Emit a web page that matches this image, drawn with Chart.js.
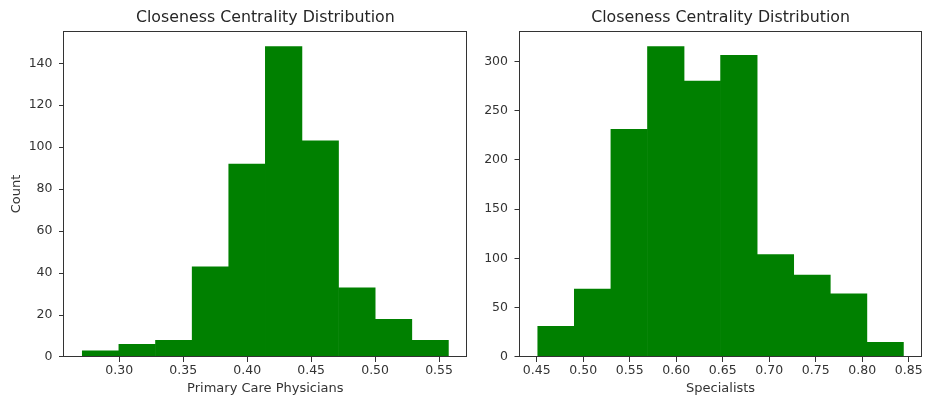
<!DOCTYPE html>
<html><head><meta charset="utf-8">
<script src="https://cdn.jsdelivr.net/npm/chart.js@4.4.0/dist/chart.umd.min.js"></script>
<style>
html,body{margin:0;padding:0;background:#fff;width:925px;height:401px;overflow:hidden;}
#w1{position:absolute;left:0;top:0;width:470px;height:401px;}
#w2{position:absolute;left:460px;top:0;width:465px;height:401px;}
</style></head><body>
<div id="w1"><canvas id="c1"></canvas></div>
<div id="w2"><canvas id="c2"></canvas></div>
<script>
const chartTitle = 'Closeness Centrality Distribution';

const pcpLabel = 'Primary Care Physicians';
const pcpBinEdges = [0.2711, 0.2997, 0.3283, 0.3570, 0.3856, 0.4142, 0.4428, 0.4714, 0.5001, 0.5287, 0.5573];
const pcpCounts = [3, 6, 8, 43, 92, 148, 103, 33, 18, 8];
const pcpXTicks = [0.30, 0.35, 0.40, 0.45, 0.50, 0.55];
const pcpYTicks = [0, 20, 40, 60, 80, 100, 120, 140];

const specLabel = 'Specialists';
const specBinEdges = [0.4511, 0.4904, 0.5297, 0.5691, 0.6084, 0.6477, 0.6870, 0.7263, 0.7657, 0.8050, 0.8443];
const specCounts = [31, 69, 231, 315, 280, 306, 104, 83, 64, 15];
const specXTicks = [0.45, 0.50, 0.55, 0.60, 0.65, 0.70, 0.75, 0.80, 0.85];
const specYTicks = [0, 50, 100, 150, 200, 250, 300];

const yLabel = 'Count';

Chart.defaults.font.family = "'DejaVu Sans', sans-serif";
Chart.defaults.color = '#333333';
Chart.defaults.animation = false;

const AX = '#333333';

const framePlugin = {
  id: 'frame',
  afterDatasetsDraw(chart) {
    const {ctx, chartArea: a} = chart;
    ctx.save();
    ctx.strokeStyle = AX;
    ctx.lineWidth = 1;
    const l = Math.round(a.left) - 0.5, t = Math.round(a.top) + 0.5;
    const r = Math.round(a.right) - 0.5, b = Math.round(a.bottom) - 0.5;
    ctx.strokeRect(l, t, r - l, b - t);
    ctx.restore();
  }
};

function makeHist(canvasId, edges, counts, xTicks, yTicks, xLabel, yTitle, yAxisWidth, rightPad) {
  const lo = edges[0], hi = edges[edges.length - 1];
  const m = (hi - lo) * 0.05;
  const ymax = Math.max(...counts) * 1.05;
  const data = counts.map((c, i) => ({x: (edges[i] + edges[i + 1]) / 2, y: c}));
  return new Chart(document.getElementById(canvasId), {
    type: 'bar',
    data: {datasets: [{
      data: data,
      backgroundColor: '#008000',
      borderWidth: 0,
      barPercentage: 1.0,
      categoryPercentage: 1.0
    }]},
    options: {
      responsive: true,
      maintainAspectRatio: false,
      layout: {padding: {top: 0, right: rightPad, bottom: 0, left: 0}},
      plugins: {
        legend: {display: false},
        tooltip: {enabled: false},
        title: {
          display: true,
          text: chartTitle,
          fullSize: false,
          font: {size: 15.8, weight: 'normal'},
          color: '#262626',
          padding: {top: 8.5, bottom: 3.5}
        }
      },
      scales: {
        x: {
          type: 'linear',
          min: lo - m,
          max: hi + m,
          offset: false,
          afterBuildTicks: (ax) => { ax.ticks = xTicks.map(v => ({value: v})); },
          afterFit: (ax) => { ax.height = 44; },
          ticks: {
            font: {size: 12.5},
            padding: 1.5,
            maxRotation: 0,
            autoSkip: false,
            callback: (v) => Number(v).toFixed(2)
          },
          grid: {display: true, drawOnChartArea: false, drawTicks: true, tickLength: 5, color: AX, offset: false},
          border: {display: false},
          title: {display: true, text: xLabel, font: {size: 13}, padding: {top: 0, bottom: 4.2}}
        },
        y: {
          type: 'linear',
          min: 0,
          max: ymax,
          afterBuildTicks: (ax) => { ax.ticks = yTicks.map(v => ({value: v})); },
          afterFit: (ax) => { ax.width = yAxisWidth; },
          ticks: {font: {size: 12.5}, padding: 6.5, autoSkip: false, callback: (v) => String(v)},
          grid: {display: true, drawOnChartArea: false, drawTicks: true, tickLength: 5, color: AX},
          border: {display: false},
          title: {display: !!yTitle, text: yTitle || '', font: {size: 13}, padding: {top: 8.5, bottom: 0}}
        }
      }
    },
    plugins: [framePlugin]
  });
}

makeHist('c1', pcpBinEdges, pcpCounts, pcpXTicks, pcpYTicks, pcpLabel, yLabel, 64, 3.3);
makeHist('c2', specBinEdges, specCounts, specXTicks, specYTicks, specLabel, null, 59.5, 3.3);
</script>
</body></html>
